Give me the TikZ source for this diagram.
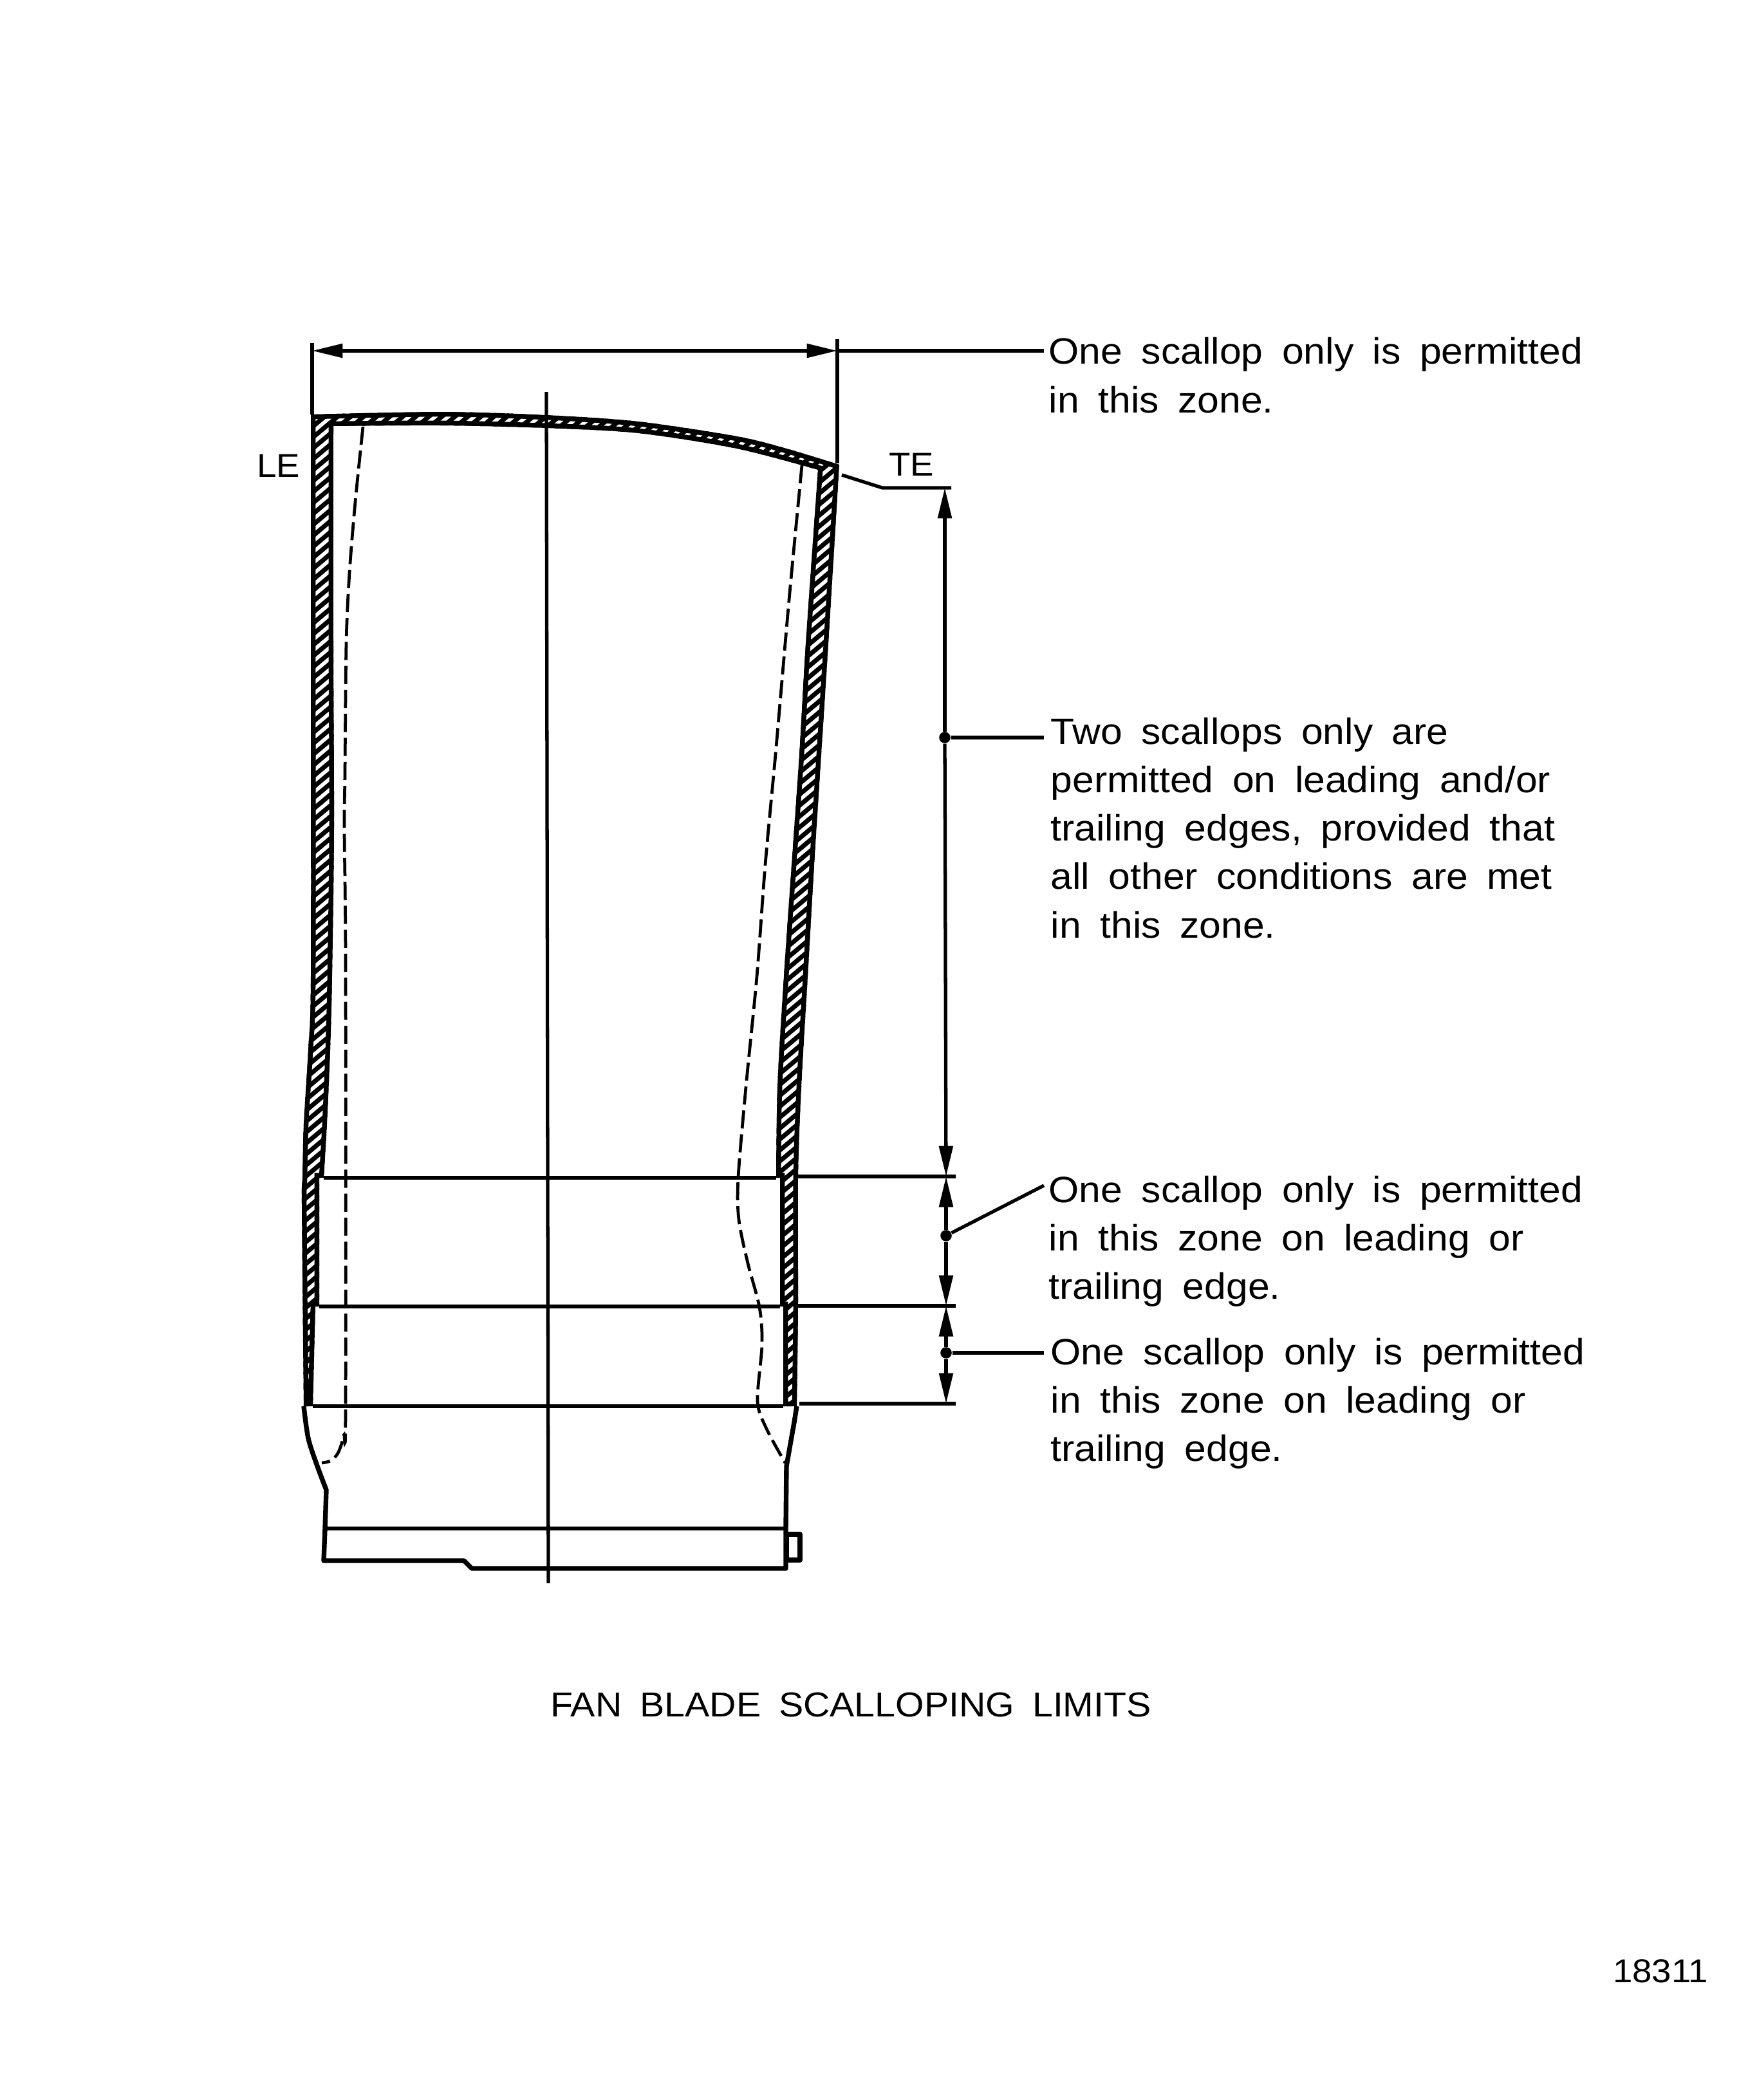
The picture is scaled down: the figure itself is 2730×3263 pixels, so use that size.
\documentclass[tikz,border=0pt]{standalone}
\usepackage{fontspec}
\setmainfont[WordSpace=1.75,FakeStretch=1.065]{Liberation Sans}
\usetikzlibrary{arrows.meta}
\tikzset{>={Triangle[length=13.5pt,width=6pt]}}

% wall section of the blade, outer edge then inner edge
\newcommand{\wallpath}{
  plot[smooth, tension=0.5] coordinates {(472,2185) (469,1871) (470,1830) (472,1746) (479,1631) (483,1517) (483,1000) (483,644)}
  -- plot[smooth, tension=0.5] coordinates {(483,644) (686,640) (849,645) (992,655) (1145,678) (1222,697) (1304,722)}
  -- plot[smooth, tension=0.5] coordinates {(1304,722) (1287,1000) (1276,1172) (1265,1344) (1255,1517) (1245,1689) (1240,1830) (1240,2030) (1238,2185)}
  -- (1217,2185) -- (1217,2030) -- (1212,2030) -- (1212,1830) -- (1206,1830)
  -- plot[smooth, tension=0.5] coordinates {(1206,1830) (1208,1689) (1218,1517) (1230,1344) (1242,1172) (1252,1000) (1271,730)}
  -- plot[smooth, tension=0.5] coordinates {(1271,730) (1145,697) (992,673) (849,665) (686,661) (518,662)}
  -- plot[smooth, tension=0.5] coordinates {(518,662) (518,1000) (519,1287) (516,1517) (513,1631) (508,1746) (503,1830)}
  -- (496,1830) -- (496,2030) -- (490,2030) -- (486,2185) -- cycle
}

\begin{document}
\begin{tikzpicture}
    [
        x=0.01cm, y=-0.01cm,
        thin_line/.style={line width=1.5pt},
        body_line/.style={line width=2.1pt, line join=round},
        hidden_line/.style={line width=1.35pt, dash pattern=on 8pt off 2.6pt},
        dim_dot/.style={circle, fill=black, inner sep=0pt, minimum size=5pt},
        note/.style={anchor=north west, inner sep=0pt, align=left, font=\fontsize{16.2pt}{21.4pt}\selectfont},
        tag/.style={inner sep=0pt, font=\fontsize{14.6pt}{20pt}\selectfont},
    ]
  \useasboundingbox (0,0) rectangle (2730,3263);

  % hatched wall
  \begin{scope}
    \clip \wallpath;
    \foreach \h in {650,667,...,2950}
      \draw[line width=2pt] (400,\h) -- (1400,\h-840);
    \draw[line width=4.2pt] \wallpath;
  \end{scope}

  % hidden lines
  \draw[hidden_line] plot[smooth, tension=0.5] coordinates {(564,663) (552,780) (543,890) (538,1000) (536,1200) (535,1287) (537,1500) (537,2185) (534,2230) (525,2258) (513,2270) (500,2273)};
  \draw[hidden_line] plot[smooth, tension=0.5] coordinates {(1246,723) (1229,900) (1220,1000) (1205,1172) (1189,1344) (1176,1517) (1159,1689) (1147,1830) (1148,1895) (1162,1963) (1180,2031) (1184,2089) (1177,2177) (1191,2220) (1220,2273)};

  % root outline
  \draw[body_line] plot[smooth, tension=0.5] coordinates {(472,2185) (479,2235) (493,2278) (507,2315)} -- (505,2375) -- (503,2425) -- (721,2425) -- (733,2437) -- (1221,2437) -- (1221,2375) -- (1222,2278) -- (1234,2210) -- (1238,2185);
  \draw[body_line] (1222,2384) rectangle (1243,2424);

  \coordinate (centre_top) at (849,609);
  \coordinate (centre_bot) at (852,2460);
  \draw[thin_line] (centre_top) -- (centre_bot);

  \coordinate (zone_a_l) at (503,1830);
  \coordinate (zone_a_r) at (1206,1830);
  \coordinate (zone_b_l) at (496,2030);
  \coordinate (zone_b_r) at (1212,2030);
  \coordinate (zone_c_l) at (486,2185);
  \coordinate (zone_c_r) at (1217,2185);
  \coordinate (base_l) at (505,2375);
  \coordinate (base_r) at (1221,2375);
  \draw[thin_line] (zone_a_l) -- (zone_a_r);
  \draw[thin_line] (zone_b_l) -- (zone_b_r);
  \draw[thin_line] (zone_c_l) -- (zone_c_r);
  \draw[thin_line] (base_l) -- (base_r);

  % extension lines
  \coordinate (ext_a_l) at (1240,1828);
  \coordinate (ext_a) at (1470,1828);
  \coordinate (ext_a_r) at (1485,1828);
  \coordinate (ext_b_l) at (1240,2029);
  \coordinate (ext_b) at (1470,2029);
  \coordinate (ext_b_r) at (1485,2029);
  \coordinate (ext_c_l) at (1242,2181);
  \coordinate (ext_c) at (1470,2181);
  \coordinate (ext_c_r) at (1485,2181);
  \draw[thin_line] (ext_a_l) -- (ext_a_r);
  \draw[thin_line] (ext_b_l) -- (ext_b_r);
  \draw[thin_line] (ext_c_l) -- (ext_c_r);

  \coordinate (le_top) at (485,533);
  \coordinate (le_bot) at (485,644);
  \coordinate (te_top) at (1301,527);
  \coordinate (te_bot) at (1301,720);
  \coordinate (span_l) at (485,545);
  \coordinate (span_r) at (1301,545);
  \coordinate (span_end) at (1622,545);
  \draw[thin_line] (le_top) -- (le_bot);
  \draw[thin_line] (te_top) -- (te_bot);
  \draw[thin_line, <->] (span_l) -- (span_r);
  \draw[thin_line] (span_r) -- (span_end);

  \coordinate (te_root) at (1308,738);
  \coordinate (te_knee) at (1371,758);
  \coordinate (te_stop) at (1468,758);
  \coordinate (te_end) at (1478,758);
  \draw[thin_line] (te_root) -- (te_knee) -- (te_end);

  % dimension dots and leaders
  \node[dim_dot] (dot_a) at (1468,1146) {};
  \node[dim_dot] (dot_b) at (1470,1920) {};
  \node[dim_dot] (dot_c) at (1470,2102) {};
  \coordinate (lead_a) at (1622,1146);
  \coordinate (lead_b) at (1622,1842);
  \coordinate (lead_c) at (1622,2102);
  \draw[thin_line, ->] (dot_a) -- (te_stop);
  \draw[thin_line, ->] (dot_a) -- (ext_a);
  \draw[thin_line, ->] (dot_b) -- (ext_a);
  \draw[thin_line, ->] (dot_b) -- (ext_b);
  \draw[thin_line, ->] (dot_c) -- (ext_b);
  \draw[thin_line, ->] (dot_c) -- (ext_c);
  \draw[thin_line] (dot_a) -- (lead_a);
  \draw[thin_line] (dot_b) -- (lead_b);
  \draw[thin_line] (dot_c) -- (lead_c);

  % texts
  \node[tag] (le_label) at (433,724) {LE};
  \node[tag] (te_label) at (1416,722) {TE};
  \node[note] (note_top) at (1629,524) {One scallop only is permitted\\in this zone.};
  \node[note] (note_mid) at (1632,1114) {Two scallops only are\\permitted on leading and/or\\trailing edges, provided that\\all other conditions are met\\in this zone.};
  \node[note] (note_a) at (1629,1826) {One scallop only is permitted\\in this zone on leading or\\trailing edge.};
  \node[note] (note_b) at (1632,2078) {One scallop only is permitted\\in this zone on leading or\\trailing edge.};
  \node[tag, font=\fontsize{15.3pt}{20pt}\selectfont] (title) at (1322,2649) {FAN BLADE SCALLOPING LIMITS};
  \node[tag] (fig_no) at (2580,3063) {18311};
\end{tikzpicture}
\end{document}
